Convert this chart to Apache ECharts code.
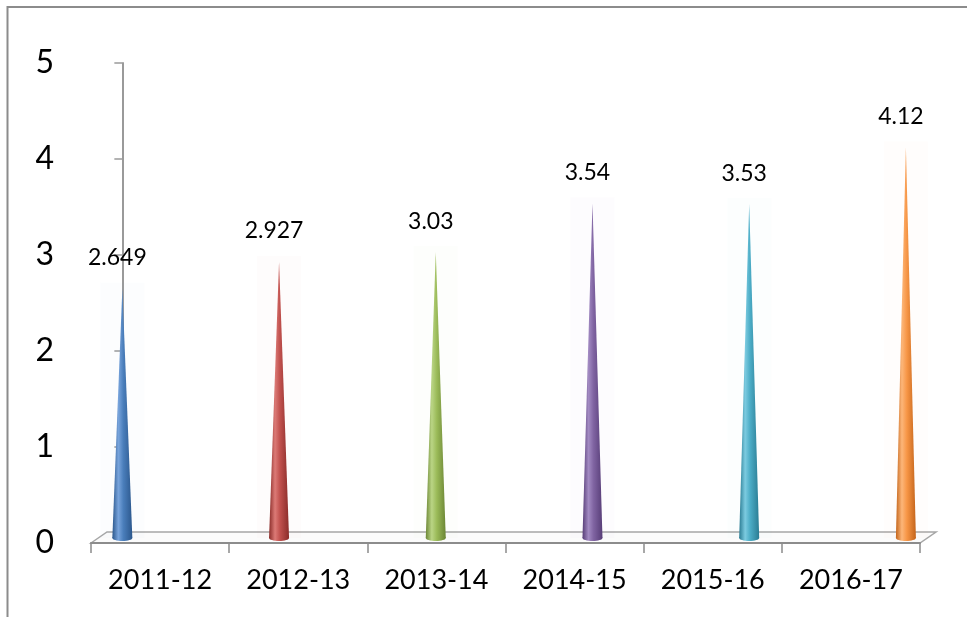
<!DOCTYPE html>
<html>
<head>
<meta charset="utf-8">
<style>
  html, body { margin: 0; padding: 0; background: #ffffff; }
  #chart { width: 967px; height: 617px; }
</style>
<script src="https://cdn.jsdelivr.net/npm/echarts@6/dist/echarts.min.js"></script>
</head>
<body>
<div id="chart"></div>
<script>
// Fiscal years and their values
const categories = ['2011-12', '2012-13', '2013-14', '2014-15', '2015-16', '2016-17'];
const values = [2.649, 2.927, 3.03, 3.54, 3.53, 4.12];
const yTicks = [0, 1, 2, 3, 4, 5];

// Cone colours: [base, highlight, shadow]
const conePalette = [
  ['#4a7ebb', '#78a4dc', '#2b578c'],
  ['#c0504d', '#dc7a76', '#8a2c29'],
  ['#9bbb59', '#bad585', '#6b8634'],
  ['#8064a2', '#a28ac2', '#573d77'],
  ['#4bacc6', '#7ccbe0', '#2a7c93'],
  ['#f79646', '#fcb679', '#c4641a']
];

const FONT = 'Lato, "Liberation Sans", sans-serif';

const chart = echarts.init(document.getElementById('chart'), null, { renderer: 'canvas' });

function renderCone(params, api) {
  const idx = api.value(0);
  const val = api.value(1);
  const tip = api.coord([idx, val]);
  const base = api.coord([idx, 0]);
  const cols = conePalette[params.dataIndex % conePalette.length];
  const hw = 10;          // half width of the cone base
  const ry = 3;           // flattening of the base ellipse
  const bx = base[0];
  const by = base[1] - 5; // base sits in the middle of the floor depth

  const fill = new echarts.graphic.LinearGradient(0, 0, 1, 0, [
    { offset: 0, color: cols[2] },
    { offset: 0.3, color: cols[1] },
    { offset: 0.55, color: cols[0] },
    { offset: 1, color: cols[2] }
  ]);

  const children = [];

  if (params.dataIndex === 0) {
    // 3D floor outline behind the cones
    const cs = params.coordSys;
    const fx = cs.x, fy = cs.y + cs.height, fw = cs.width;
    const dx = 16, dy = 11;
    children.push({
      type: 'polygon',
      shape: { points: [[fx, fy], [fx + dx, fy - dy], [fx + fw + dx, fy - dy], [fx + fw, fy]] },
      style: { fill: '#fbfbfb', stroke: '#a6a6a6', lineWidth: 1.5 },
      z2: 0
    });
  }

  // very faint glow column around the cone
  children.push({
    type: 'rect',
    shape: { x: bx - 22, y: tip[1] - 6, width: 44, height: by - tip[1] + 6 },
    style: { fill: cols[1], opacity: 0.022 },
    z2: 1
  });

  children.push({
    type: 'polygon',
    shape: { points: [[tip[0], tip[1]], [bx + hw, by], [bx - hw, by]] },
    style: { fill: fill },
    z2: 2
  });
  children.push({
    type: 'ellipse',
    shape: { cx: bx, cy: by, rx: hw, ry: ry },
    style: { fill: fill },
    z2: 2
  });

  children.push({
    type: 'text',
    style: {
      x: tip[0] - 5,
      y: tip[1] - 31,
      text: String(val),
      fill: '#000000',
      font: '23px ' + FONT,
      align: 'center',
      verticalAlign: 'middle'
    },
    z2: 3
  });

  return { type: 'group', children: children };
}

chart.setOption({
  animation: false,
  backgroundColor: '#ffffff',
  graphic: [{
    type: 'rect',
    shape: { x: 7.5, y: 7, width: 1000, height: 1000 },
    style: { fill: 'none', stroke: '#8c8c8c', lineWidth: 2 },
    silent: true,
    z: -10
  }],
  grid: { left: 91, right: 47, top: 63, bottom: 74 },
  xAxis: [
    {
      type: 'category',
      data: categories,
      axisLine: { show: true, lineStyle: { color: '#8c8c8c', width: 2 } },
      axisTick: { show: true, length: 10, lineStyle: { color: '#8c8c8c', width: 1.5 } },
      axisLabel: { color: '#000000', fontSize: 27, fontFamily: FONT, margin: 24 },
      splitLine: { show: false },
      z: 5
    },
    {
      // positioning scale for the cones (one unit per category)
      type: 'value',
      min: -0.2,
      max: 5.09,
      show: false,
      splitLine: { show: false }
    }
  ],
  yAxis: {
    type: 'value',
    min: yTicks[0],
    max: yTicks[yTicks.length - 1],
    interval: 1,
    axisLine: { show: true, lineStyle: { color: '#9a9a9a', width: 2 } },
    axisTick: { show: true, length: 8, lineStyle: { color: '#9a9a9a', width: 1.5 } },
    axisLabel: { color: '#000000', fontSize: 32, fontFamily: FONT, margin: 37 },
    splitLine: { show: false }
  },
  series: [{
    type: 'custom',
    xAxisIndex: 1,
    yAxisIndex: 0,
    renderItem: renderCone,
    encode: { x: 0, y: 1 },
    data: values.map((v, i) => [i, v]),
    z: 3
  }]
});
</script>
</body>
</html>
